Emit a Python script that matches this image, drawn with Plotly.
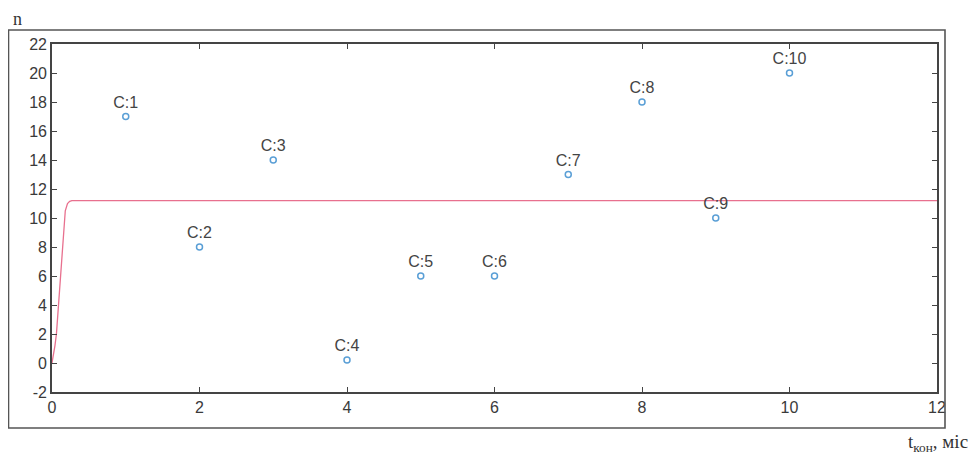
import plotly.graph_objects as go

# Observed points
pt_x = [1, 2, 3, 4, 5, 6, 7, 8, 9, 10]
pt_y = [17, 8, 14, 0.2, 6, 6, 13, 18, 10, 20]
pt_labels = ["C:1", "C:2", "C:3", "C:4", "C:5", "C:6", "C:7", "C:8", "C:9", "C:10"]

# Model curve
curve_x = [0, 0.02, 0.04, 0.06, 0.09, 0.12, 0.15, 0.18, 0.21, 0.24, 0.27, 12]
curve_y = [0, 0.5, 1.2, 2.0, 4.2, 6.5, 8.6, 10.5, 11.0, 11.15, 11.2, 11.2]

x_ticks = [0, 2, 4, 6, 8, 10, 12]
y_ticks = [-2, 0, 2, 4, 6, 8, 10, 12, 14, 16, 18, 20, 22]
y_ticktext = ["-2", "0", "2", "4", "6", "8", "10", "12", "14", "16", "18", "20", "22"]

fig = go.Figure()
fig.add_trace(go.Scatter(x=curve_x, y=curve_y, mode="lines",
                         line=dict(color="#e8708e", width=1.3),
                         hoverinfo="skip", showlegend=False))
fig.add_trace(go.Scatter(x=pt_x, y=pt_y, mode="markers+text", text=pt_labels,
                         textposition="top center",
                         textfont=dict(family="Liberation Sans, Arial", size=16, color="#444444"),
                         marker=dict(symbol="circle-open", size=6, color="#5a9fd6",
                                     line=dict(width=1.5, color="#5a9fd6")),
                         showlegend=False))

axis_common = dict(showgrid=False, zeroline=False, ticks="inside", ticklen=5,
                   tickwidth=1.2, tickcolor="#444444", mirror="allticks",
                   showline=True, linecolor="#444444", linewidth=1.6, automargin=False,
                   tickfont=dict(family="Liberation Sans, Arial", size=16, color="#3a3a3a"))

fig.update_xaxes(range=[0, 12], tickvals=x_ticks, **axis_common)
fig.update_yaxes(range=[-2, 22], tickvals=y_ticks, ticktext=y_ticktext, **axis_common)

# page has an 8px body margin; work in figure coordinates = page - 8
OFF = 8
W, H = 980 - 2 * OFF, 465 - 2 * OFF
l, t = 52 - OFF, 44 - OFF
r = W - (937 - OFF)
b = H - (392 - OFF)
pw, ph = W - l - r, H - t - b


def px(xp):
    return (xp - OFF - l) / pw


def py(yp):
    return ((H - b) - (yp - OFF)) / ph


fig.add_shape(type="rect", xref="paper", yref="paper",
              x0=px(8.5), x1=px(945), y0=py(428), y1=py(30),
              line=dict(color="#555555", width=1.6))

fig.add_annotation(xref="paper", yref="paper", x=px(11), y=py(19),
                   text="n", showarrow=False, xanchor="left", yanchor="middle",
                   font=dict(family="Liberation Serif", size=18, color="#333333"))
fig.add_annotation(xref="paper", yref="paper", x=px(970), y=py(443),
                   text="t<sub>кон</sub>, міс", showarrow=False, xanchor="right", yanchor="middle",
                   font=dict(family="Liberation Serif", size=19, color="#333333"))

fig.update_layout(width=W, height=H, margin=dict(l=l, r=r, t=t, b=b, autoexpand=False),
                  plot_bgcolor="white", paper_bgcolor="white")

fig.write_html("out.html")
